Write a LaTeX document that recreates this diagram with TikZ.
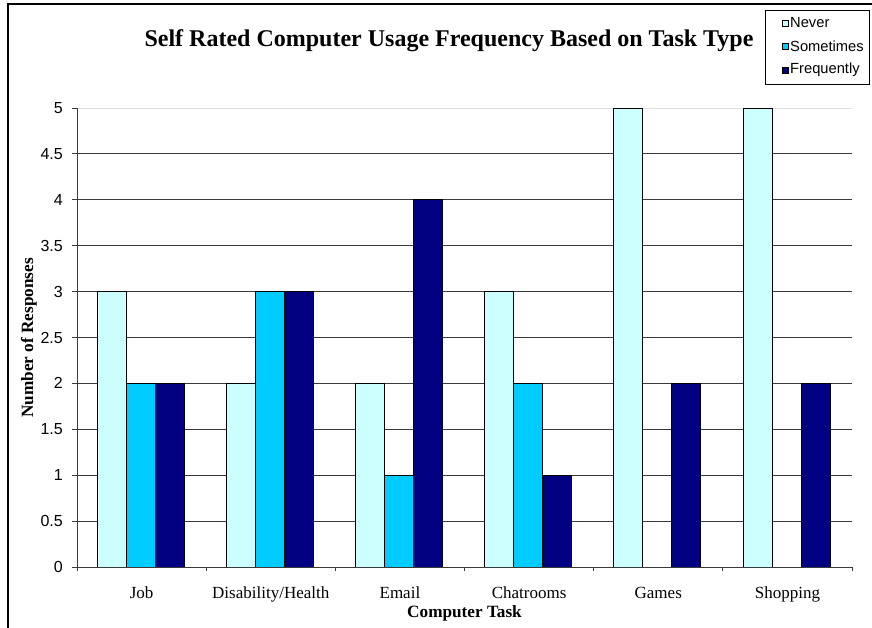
\documentclass[tikz,border=0pt]{standalone}
\usepackage{fontspec}
\setmainfont{Liberation Serif}
\newfontfamily\arialf{Liberation Sans}
\definecolor{never}{HTML}{CCFFFF}
\definecolor{sometimes}{HTML}{00CCFF}
\definecolor{freq}{HTML}{000080}
\definecolor{gridc}{HTML}{3A3A3A}
\definecolor{gridlight}{HTML}{E0E0E0}
\tikzset{
  bar/.style={draw=black, line width=1pt},
  gridline/.style={draw=gridc, line width=1pt},
  axisline/.style={draw=gridc, line width=1pt},
  ticklab/.style={anchor=east, inner sep=0pt, font=\arialf\fontsize{16}{16}\selectfont},
  catlab/.style={anchor=base, inner sep=0pt, font=\fontsize{17}{17}\selectfont},
  axtitle/.style={anchor=base, inner sep=0pt, font=\bfseries\fontsize{17.2}{17.2}\selectfont},
  legtext/.style={anchor=west, inner sep=0pt, font=\arialf\fontsize{14.7}{14.7}\selectfont},
  legkey/.style={draw=black, line width=0.8pt}
}
\begin{document}
\begin{tikzpicture}[x=1pt,y=-1pt]
\useasboundingbox (0,0) rectangle (872,627);
\clip (0,0) rectangle (872,627);
\fill[white] (0,0) rectangle (872,627);
% outer frame
\draw[line width=2pt] (8,700) -- (8,4) -- (900,4);
% grid lines
\draw[draw=gridlight, line width=1pt] (77,108) -- (852,108);
\foreach \v in {0.5,1,...,4.5}
  \draw[gridline] (77,{567-91.8*\v}) -- (852,{567-91.8*\v});
% bars
\foreach \a/\b/\c [count=\i from 0] in {3/2/2,2/3/3,2/1/4,3/2/1,5/0/2,5/0/2} {
  \pgfmathsetmacro\xo{77+129.17*\i+20.3}
  \ifnum\a>0 \draw[bar, fill=never] (\xo,567) rectangle ({\xo+29},{567-91.8*\a}); \fi
  \ifnum\b>0 \draw[bar, fill=sometimes] ({\xo+29},567) rectangle ({\xo+58},{567-91.8*\b}); \fi
  \ifnum\c>0 \draw[bar, fill=freq] ({\xo+58},567) rectangle ({\xo+87},{567-91.8*\c}); \fi
}
% axes
\draw[axisline] (77,108) -- (77,571);
\draw[axisline] (77,567) -- (852,567);
\foreach \i in {1,...,6}
  \draw[axisline] ({77+129.17*\i},567) -- ++(0,4);
\foreach \t [count=\k] in {0,0.5,1,1.5,2,2.5,3,3.5,4,4.5,5} {
  \draw[axisline] (72,{567-91.8*\t}) -- (77,{567-91.8*\t});
  \node[ticklab] (yt\k) at (63,{567-91.8*\t}) {\t};
}
% category labels
\node[catlab] (c1) at ({77+129.17*0.5},598) {Job};
\node[catlab] (c2) at ({77+129.17*1.5},598) {Disability/Health};
\node[catlab] (c3) at ({77+129.17*2.5},598) {Email};
\node[catlab] (c4) at ({77+129.17*3.5},598) {Chatrooms};
\node[catlab] (c5) at ({77+129.17*4.5},598) {Games};
\node[catlab] (c6) at ({77+129.17*5.5},598) {Shopping};
% axis titles
\node[axtitle] (xtitle) at (464.5,617.5) {Computer Task};
\node[axtitle, rotate=90] (ytitle) at (33,338) {Number of Responses};
% title
\node[anchor=base, inner sep=0pt, font=\bfseries\fontsize{24}{24}\selectfont] (title) at (449,46.5) {Self Rated Computer Usage Frequency Based on Task Type};
% legend
\draw[draw=black, line width=1pt] (765,10) rectangle (869,84);
\draw[legkey, fill=never] (782,20) rectangle (788,26);
\draw[legkey, fill=sometimes] (782,43) rectangle (788,49);
\draw[legkey, fill=freq] (782,67) rectangle (788,73);
\node[legtext] (l1) at (790,23) {Never};
\node[legtext] (l2) at (790,46) {Sometimes};
\node[legtext] (l3) at (790,70) {Frequently};
\end{tikzpicture}
\end{document}
